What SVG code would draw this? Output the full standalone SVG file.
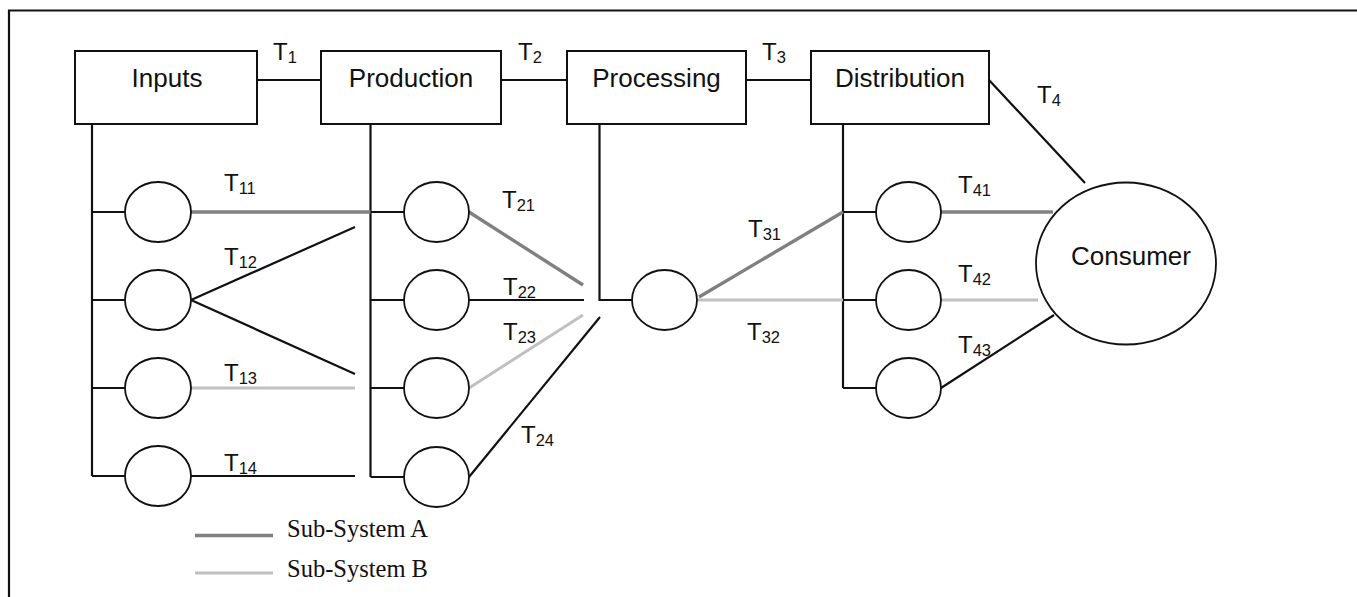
<svg xmlns="http://www.w3.org/2000/svg" width="1357" height="597" viewBox="0 0 1357 597">
  <style>
    .box { fill: #fff; stroke: #111; stroke-width: 2; }
    .node { fill: #fff; stroke: #111; stroke-width: 1.8; }
    .ln { fill: none; stroke: #111; stroke-width: 2.2; }
    .subA { fill: none; stroke: #808080; stroke-width: 3.4; }
    .subB { fill: none; stroke: #c0c0c0; stroke-width: 3; }
    .lbl { font-family: "Liberation Sans", Arial, sans-serif; font-size: 26px; fill: #111; text-anchor: middle; }
    .t { font-family: "Liberation Sans", Arial, sans-serif; font-size: 24px; fill: #111; }
    .t tspan { font-size: 16.5px; }
    .leg { font-family: "Liberation Serif", "Times New Roman", serif; font-size: 24.5px; fill: #111; }
  </style>

  <!-- frame -->
  <path d="M9,597 V10.5 H1357" fill="none" stroke="#111" stroke-width="2.2"/>

  <!-- connectors -->
  <g id="connectors">
    <!-- main chain -->
    <path class="ln" d="M257,80 H321 M501,80 H567 M746,80 H811 M989,80 L1085,183"/>
    <!-- trunks and stubs -->
    <path class="ln" d="M92,124 V476 M92,212 H125 M92,300 H125 M92,388 H125 M92,476 H125"/>
    <path class="ln" d="M370.5,124 V477 M370.5,212 H404 M370.5,300 H404 M370.5,388 H404 M370.5,477 H404"/>
    <path class="ln" d="M599.5,124 V300 H632"/>
    <path class="ln" d="M843,124 V388 M843,212 H876 M843,300 H876 M843,388 H876"/>
    <!-- inputs to production -->
    <path class="subA" d="M191,212 H370.5"/>
    <path class="ln" d="M191,300 L355,227 M191,300 L355,374"/>
    <path class="subB" d="M191,388 H355"/>
    <path class="ln" d="M191,476 H355"/>
    <!-- production to processing -->
    <path class="subA" d="M469,212 L583,285"/>
    <path class="ln" d="M469,300 H584"/>
    <path class="subB" d="M469,388 L583,315"/>
    <path class="ln" d="M469,477 L600,317"/>
    <!-- processing to distribution -->
    <path class="subA" d="M699,297 L843,212"/>
    <path class="subB" d="M697,300 H843"/>
    <!-- distribution to consumer -->
    <path class="subA" d="M941,212 H1053"/>
    <path class="subB" d="M941,300 H1038"/>
    <path class="ln" d="M941,388 L1054,315"/>
  </g>

  <!-- stage boxes -->
  <g id="inputs"><rect class="box" x="75" y="51" width="182" height="73"/><text class="lbl" x="167" y="87">Inputs</text></g>
  <g id="production"><rect class="box" x="321" y="51" width="180" height="73"/><text class="lbl" x="411" y="87">Production</text></g>
  <g id="processing"><rect class="box" x="567" y="51" width="179" height="73"/><text class="lbl" x="656.5" y="87">Processing</text></g>
  <g id="distribution"><rect class="box" x="811" y="51" width="178" height="73"/><text class="lbl" x="900" y="87">Distribution</text></g>

  <!-- sub-nodes -->
  <g id="inputs-nodes">
    <ellipse class="node" cx="158" cy="212" rx="33" ry="30"/>
    <ellipse class="node" cx="158" cy="300" rx="33" ry="30"/>
    <ellipse class="node" cx="158" cy="388" rx="33" ry="30"/>
    <ellipse class="node" cx="158" cy="476" rx="33" ry="30"/>
  </g>
  <g id="production-nodes">
    <ellipse class="node" cx="436.5" cy="212" rx="32.5" ry="30"/>
    <ellipse class="node" cx="436.5" cy="300" rx="32.5" ry="30"/>
    <ellipse class="node" cx="436.5" cy="388" rx="32.5" ry="30"/>
    <ellipse class="node" cx="436.5" cy="477" rx="32.5" ry="30"/>
  </g>
  <g id="processing-node">
    <ellipse class="node" cx="664.5" cy="300" rx="32.5" ry="30"/>
  </g>
  <g id="distribution-nodes">
    <ellipse class="node" cx="908.5" cy="212" rx="32.5" ry="30"/>
    <ellipse class="node" cx="908.5" cy="300" rx="32.5" ry="30"/>
    <ellipse class="node" cx="908.5" cy="388" rx="32.5" ry="30"/>
  </g>
  <g id="consumer">
    <ellipse class="node" cx="1126" cy="263.5" rx="90" ry="81"/>
    <text class="lbl" x="1131" y="265">Consumer</text>
  </g>

  <!-- transaction labels -->
  <g id="labels">
    <text class="t" x="273" y="60">T<tspan dy="3">1</tspan></text>
    <text class="t" x="518" y="60">T<tspan dy="3">2</tspan></text>
    <text class="t" x="762" y="60">T<tspan dy="3">3</tspan></text>
    <text class="t" x="1037" y="103">T<tspan dy="3">4</tspan></text>
    <text class="t" x="224" y="191">T<tspan dy="3">11</tspan></text>
    <text class="t" x="224" y="265">T<tspan dy="3">12</tspan></text>
    <text class="t" x="224" y="381">T<tspan dy="3">13</tspan></text>
    <text class="t" x="224" y="471">T<tspan dy="3">14</tspan></text>
    <text class="t" x="502" y="208">T<tspan dy="3">21</tspan></text>
    <text class="t" x="503" y="295">T<tspan dy="3">22</tspan></text>
    <text class="t" x="503" y="340">T<tspan dy="3">23</tspan></text>
    <text class="t" x="521" y="443">T<tspan dy="3">24</tspan></text>
    <text class="t" x="748" y="237">T<tspan dy="3">31</tspan></text>
    <text class="t" x="747" y="340">T<tspan dy="3">32</tspan></text>
    <text class="t" x="958" y="193">T<tspan dy="3">41</tspan></text>
    <text class="t" x="958" y="282">T<tspan dy="3">42</tspan></text>
    <text class="t" x="958" y="353">T<tspan dy="3">43</tspan></text>
  </g>

  <!-- legend -->
  <g id="legend">
    <line class="subA" x1="195" y1="535.5" x2="273" y2="535.5"/>
    <text class="leg" x="287" y="537">Sub-System A</text>
    <line class="subB" x1="195" y1="573" x2="273" y2="573" stroke-width="2.4"/>
    <text class="leg" x="287" y="577">Sub-System B</text>
  </g>
</svg>
